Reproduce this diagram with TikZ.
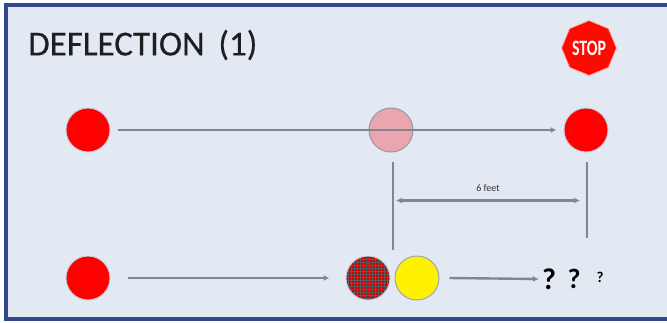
\documentclass[tikz,border=0pt]{standalone}
\usepackage{fontspec}
\setmainfont{Carlito}
\usetikzlibrary{arrows.meta,shapes.geometric,patterns}
\definecolor{bgblue}{HTML}{E3E9F3}
\definecolor{frameblue}{HTML}{2E4A8C}
\definecolor{arrowgray}{HTML}{7F8790}
\definecolor{outl}{HTML}{C3CBDD}
\definecolor{pinkc}{HTML}{EBA5AE}
\definecolor{darkred}{HTML}{D00000}
\definecolor{titlegray}{HTML}{1E1E1E}
\tikzset{
  ball/.style={circle, inner sep=0pt, minimum size=44pt, draw=outl, line width=1pt},
  conn/.style={draw=arrowgray, line width=2.4pt},
  arr/.style={conn, -{Latex[length=6pt,width=6pt]}},
  darr/.style={conn, {Latex[length=6pt,width=6pt]}-{Latex[length=6pt,width=6pt]}},
  qm/.style={inner sep=0pt, text=black}
}
\begin{document}
\begin{tikzpicture}[x=1pt,y=-1pt]
\useasboundingbox (0,0) rectangle (667,322);
\fill[white] (0,0) rectangle (667,322);
\draw[frameblue, line width=4pt, fill=bgblue] (5.5,5) rectangle (672,318.5);
\node[anchor=west, inner sep=0pt, text=titlegray, font=\fontsize{35}{40}\selectfont] (title) at (28,45) {\addfontfeature{FakeBold=0.4}DEFLECTION\, (1)};
\node[regular polygon, regular polygon sides=8, shape border rotate=22.5, fill=red!92!orange, draw=red!30!white, line width=0.8pt, inner sep=0pt, minimum size=55pt, text=white, font=\bfseries\fontsize{22}{22}\selectfont] (stop) at (589,48) {\addfontfeature{FakeStretch=0.72}STOP};
% top row
\node[ball, fill=red] (a1) at (88,130) {};
\node[ball, fill=pinkc, draw=black!25!outl] (b1) at (391,130) {};
\node[ball, fill=red] (c1) at (586,130) {};
\draw[arr] ([xshift=7pt]a1.east) -- ([xshift=-7pt]c1.west);
% bottom row
\node[ball, fill=red] (a2) at (88,278) {};
\node[ball, preaction={fill=darkred}, pattern=grid, pattern color=black!65] (d2) at (368,278) {};
\node[ball, fill=yellow, draw=black!20!outl] (y2) at (417,278) {};
\draw[arr] ([xshift=17pt]a2.east) -- ([xshift=-16pt]d2.west);
\node[qm, font=\bfseries\fontsize{30}{32}\selectfont] (q1) at (549,279) {?};
\node[qm, font=\bfseries\fontsize{28}{30}\selectfont] (q2) at (574,279) {?};
\node[qm, font=\bfseries\fontsize{15}{16}\selectfont] (q3) at (600,277) {?};
\draw[arr] ([xshift=10pt]y2.east) -- ([xshift=-3pt]q1.west);
% vertical guide lines
\coordinate (v1top) at (393,162);
\coordinate (v1bot) at (393,250);
\coordinate (v2top) at (587,162);
\coordinate (v2bot) at (587,238);
\draw[conn] (v1top) -- (v1bot);
\draw[conn] (v2top) -- (v2bot);
\coordinate (m1) at (396,200.5);
\coordinate (m2) at (580,200.5);
\draw[darr] (m1) -- (m2) node[midway, above=4pt, text=black!80, font=\fontsize{10}{11}\selectfont] {6 feet};
\end{tikzpicture}
\end{document}
